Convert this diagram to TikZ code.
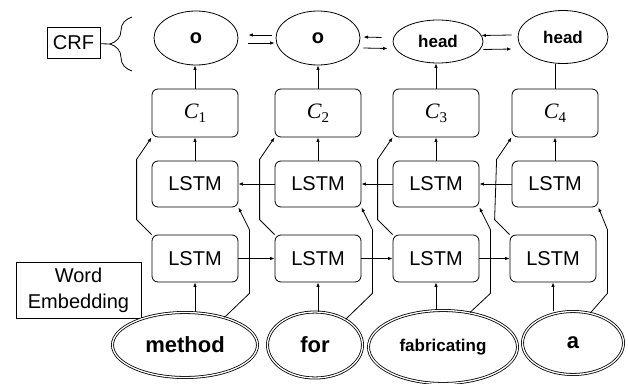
\documentclass[tikz,border=0pt]{standalone}
\usepackage{fontspec}
\setmainfont{Liberation Sans}
\newfontfamily\cfont{Liberation Serif}
\newcommand{\cstate}[1]{{\cfont\itshape\fontsize{22}{24}\selectfont C}\raisebox{-4pt}{\cfont\fontsize{15}{15}\selectfont #1}}
\usetikzlibrary{arrows.meta,calc,decorations.pathreplacing,shapes.geometric}
\begin{document}
\begin{tikzpicture}[
        x=1pt, y=-1pt, line width=0.8pt,
        block/.style={rectangle, draw, rounded corners=6pt, minimum width=86pt, minimum height=47pt, align=center, font=\fontsize{20}{22}\selectfont},
        labelbox/.style={rectangle, draw, align=center, inner sep=0pt, font=\fontsize{20}{26}\selectfont},
        crfnode/.style={ellipse, draw, inner sep=0pt, font=\bfseries\fontsize{20}{22}\selectfont},
        word/.style={ellipse, draw, double, double distance=1.3pt, inner sep=0pt, font=\bfseries\fontsize{22}{24}\selectfont},
        arrow/.style={-{Latex[length=4.5pt,width=3.5pt]}}
    ]
        \useasboundingbox (0,0) rectangle (628,383);

        % CRF
        \node[labelbox, minimum width=53pt, minimum height=31pt] (crf) at (73.5,43) {CRF};
        \coordinate (braceTop) at (132,17);
        \coordinate (braceBot) at (132,71);
        \coordinate (braceTip) at (110,44);
        \draw[decorate, decoration={brace, amplitude=22pt, aspect=0.5}] (braceBot) -- (braceTop);
        \draw (crf) -- (braceTip);

        % CRF outputs
        \node[crfnode, minimum width=84pt, minimum height=54pt] (o1) at (196,38) {o};
        \node[crfnode, minimum width=84pt, minimum height=54pt] (o2) at (318,38) {o};
        \node[crfnode, minimum width=90pt, minimum height=43pt, font=\bfseries\fontsize{17}{19}\selectfont] (h3) at (438,41.5) {head};
        \node[crfnode, minimum width=90pt, minimum height=53pt, font=\bfseries\fontsize{17}{19}\selectfont] (h4) at (563,37) {head};

        % C boxes
        \node[block, minimum height=48pt] (c1) at (195,113) {\cstate{1}};
        \node[block, minimum height=48pt] (c2) at (318,113) {\cstate{2}};
        \node[block, minimum height=48pt] (c3) at (436,113) {\cstate{3}};
        \node[block, minimum height=48pt] (c4) at (555,113) {\cstate{4}};

        % backward LSTM
        \node[block, minimum height=46pt] (bw1) at (195,184) {LSTM};
        \node[block, minimum height=46pt] (bw2) at (318,184) {LSTM};
        \node[block, minimum height=46pt] (bw3) at (436,184) {LSTM};
        \node[block, minimum height=46pt] (bw4) at (555,184) {LSTM};

        % forward LSTM
        \node[block] (fw1) at (195,258.5) {LSTM};
        \node[block] (fw2) at (318,258.5) {LSTM};
        \node[block] (fw3) at (436,258.5) {LSTM};
        \node[block] (fw4) at (553,258.5) {LSTM};

        % words
        \node[labelbox, minimum width=125pt, minimum height=56pt] (emb) at (78.5,290) {Word\\Embedding};
        \node[word, minimum width=145pt, minimum height=65pt] (w1) at (185,345) {method};
        \node[word, minimum width=95pt, minimum height=66pt] (w2) at (315,345) {for};
        \node[word, minimum width=149pt, minimum height=73pt, font=\bfseries\fontsize{17}{19}\selectfont] (w3) at (443,347) {fabricating};
        \node[word, minimum width=101pt, minimum height=63pt] (w4) at (573,343) {a};

        \foreach \i/\j in {1/2,2/3,3/4} {
            \draw[arrow] (fw\i) -- (fw\j);
            \draw[arrow] (bw\j) -- (bw\i);
        }
        \foreach \i in {1,...,4} {
            \draw[arrow] (w\i.north -| fw\i.south) -- (fw\i.south);
            \draw[arrow] (bw\i) -- (c\i);
            \draw[arrow] (fw\i.north west) -- ++(-15,-15) -- ($(c\i.south west)+(-15,22)$) -- (c\i.south west);
        }
        \foreach \i/\a in {1/35,2/40,3/52,4/60}
            \draw[arrow] (w\i.\a) -- ($(fw\i.south east)+(11,11)$) -- ($(fw\i.north east)+(11,-5)$) -- (bw\i.south east);

        \draw[arrow] (c1.north) -- (c1.north |- o1.south);
        \draw[arrow] (c2.north) -- (c2.north |- o2.south);
        \draw[arrow] (c3.north) -- (c3.north |- h3.south);
        \draw (c4.north) -- (c4.north |- h4.south);

        % CRF transitions
        \draw[arrow] ($(o2.west)+(-4,-3)$) -- ($(o1.east)+(10,-3)$);
        \draw[arrow] ($(o1.east)+(10,5)$) -- ($(o2.west)+(-1,5)$);
        \draw[arrow] ($(h3.west)+(-11,-4)$) -- ($(o2.east)+(3,-1)$);
        \draw[arrow] ($(o2.east)+(3,10)$) -- ($(h3.west)+(-5,7)$);
        \draw[arrow] ($(h4.west)+(-6,-2)$) -- ($(h3.east)+(-2,-6)$);
        \draw[arrow] ($(h3.east)+(0,8)$) -- ($(h4.west)+(-6,12)$);
    \end{tikzpicture}
\end{document}
